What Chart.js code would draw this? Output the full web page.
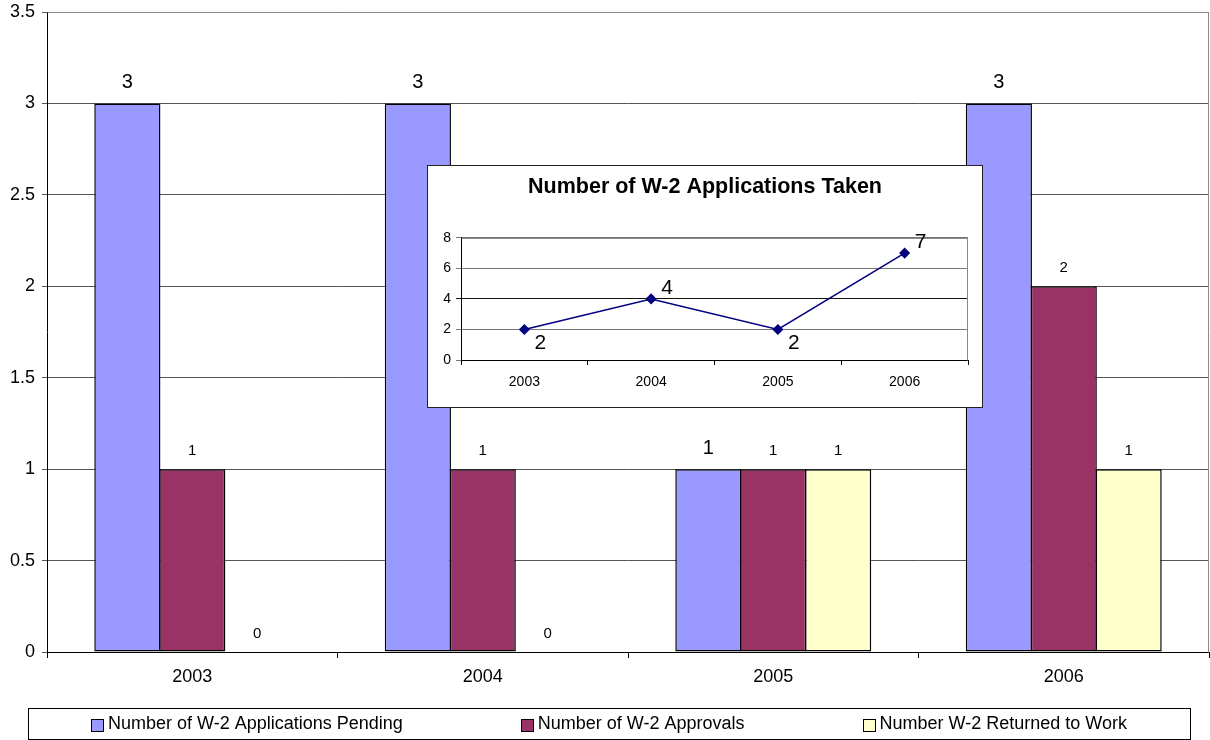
<!DOCTYPE html>
<html>
<head>
<meta charset="utf-8">
<title>W-2 Applications</title>
<script src="https://cdn.jsdelivr.net/npm/chart.js@4.4.1/dist/chart.umd.min.js"></script>
<style>
  html, body { margin: 0; padding: 0; background: #fff; }
  #wrap { position: relative; width: 1210px; height: 740px; overflow: hidden; }
  #main { position: absolute; left: 0; top: 0; }
  #inset {
    position: absolute; left: 427px; top: 165px; width: 556px; height: 243px;
    box-sizing: border-box; border: 1px solid #222; background: #fff;
  }
  #insetCanvas { display: block; }
</style>
</head>
<body>
<div id="wrap">
  <canvas id="main" width="1210" height="740"></canvas>
  <div id="inset"><canvas id="insetCanvas" width="554" height="241"></canvas></div>
</div>
<script>
// ---- data ----
const years = ['2003', '2004', '2005', '2006'];
const pending = [3, 3, 1, 3];
const approvals = [1, 1, 1, 2];
const returnedToWork = [0, 0, 1, 1];
const seriesNames = [
  'Number of W-2 Applications Pending',
  'Number of W-2 Approvals',
  'Number W-2 Returned to Work'
];
const applicationsTaken = [2, 4, 2, 7];
const insetTitle = 'Number of W-2 Applications Taken';

const FONT = '"Liberation Sans", Arial, sans-serif';
Chart.defaults.font.family = FONT;
Chart.defaults.color = '#000';

// grey frame on the top and right of a plot area
const plotFrame = {
  id: 'plotFrame',
  beforeDatasetsDraw(chart, args, opts) {
    const a = chart.chartArea, ctx = chart.ctx;
    ctx.save();
    ctx.strokeStyle = opts.color || '#888';
    ctx.lineWidth = 1;
    ctx.beginPath();
    ctx.moveTo(Math.round(a.left) + 0.5, Math.round(a.top) + 0.5);
    ctx.lineTo(Math.round(a.right) - 0.5, Math.round(a.top) + 0.5);
    ctx.lineTo(Math.round(a.right) - 0.5, Math.round(a.bottom) + 0.5);
    ctx.stroke();
    ctx.restore();
  }
};

// value labels above each bar
const barValueLabels = {
  id: 'barValueLabels',
  afterDatasetsDraw(chart, args, opts) {
    const ctx = chart.ctx;
    ctx.save();
    ctx.fillStyle = '#000';
    ctx.textAlign = 'center';
    ctx.textBaseline = 'middle';
    chart.data.datasets.forEach((ds, i) => {
      const meta = chart.getDatasetMeta(i);
      const size = opts.sizes[i];
      const lift = opts.lifts[i];
      ctx.font = size + 'px ' + FONT;
      meta.data.forEach((bar, j) => {
        ctx.fillText(String(ds.data[j]), bar.x, bar.y - lift);
      });
    });
    ctx.restore();
  }
};

// boxed legend along the bottom
const boxedLegend = {
  id: 'boxedLegend',
  afterDraw(chart, args, opts) {
    const ctx = chart.ctx;
    const b = opts.box;
    ctx.save();
    ctx.strokeStyle = '#000';
    ctx.lineWidth = 1;
    ctx.strokeRect(b.x + 0.5, b.y + 0.5, b.w, b.h);
    ctx.font = opts.fontSize + 'px ' + FONT;
    const sw = opts.swatch, gapT = opts.textGap;
    const widths = chart.data.datasets.map(ds => sw + gapT + ctx.measureText(ds.label).width);
    const total = widths.reduce((s, w) => s + w, 0) + opts.itemGap * (widths.length - 1);
    let x = b.x + b.w / 2 - total / 2;
    const cy = b.y + b.h / 2 + 1;
    chart.data.datasets.forEach((ds, i) => {
      ctx.fillStyle = ds.backgroundColor;
      ctx.fillRect(Math.round(x) + 0.5, Math.round(cy - sw / 2) + 0.5, sw, sw);
      ctx.strokeStyle = '#000';
      ctx.strokeRect(Math.round(x) + 0.5, Math.round(cy - sw / 2) + 0.5, sw, sw);
      ctx.fillStyle = '#000';
      ctx.textBaseline = 'middle';
      ctx.textAlign = 'left';
      ctx.fillText(ds.label, x + sw + gapT, cy);
      x += widths[i] + opts.itemGap;
    });
    ctx.restore();
  }
};

const plainNumber = v => String(v);

new Chart(document.getElementById('main'), {
  type: 'bar',
  data: {
    labels: years,
    datasets: [
      { label: seriesNames[0], data: pending, backgroundColor: '#9999FF' },
      { label: seriesNames[1], data: approvals, backgroundColor: '#993366' },
      { label: seriesNames[2], data: returnedToWork, backgroundColor: '#FFFFCC' }
    ].map(d => Object.assign(d, {
      borderColor: '#000', borderWidth: 1.5, borderSkipped: false,
      categoryPercentage: 0.67, barPercentage: 1.02
    }))
  },
  options: {
    responsive: false,
    animation: false,
    layout: { padding: { top: 12, right: 1, bottom: 40, left: 0 } },
    plugins: {
      legend: { display: false },
      tooltip: { enabled: false },
      plotFrame: { color: '#888' },
      barValueLabels: { sizes: [20, 15, 15], lifts: [21, 18, 18] },
      boxedLegend: {
        box: { x: 28, y: 708, w: 1162, h: 31 },
        fontSize: 18, swatch: 12, textGap: 5, itemGap: 118
      }
    },
    scales: {
      x: {
        grid: { offset: true, drawOnChartArea: false, color: '#000', tickLength: 6 },
        border: { color: '#000' },
        ticks: { font: { size: 18 }, color: '#000', padding: 8 },
        afterFit(s) { s.height = 48; }
      },
      y: {
        min: 0, max: 3.5,
        grid: { color: '#555', tickLength: 5 },
        border: { color: '#000' },
        ticks: { stepSize: 0.5, font: { size: 18 }, color: '#000', padding: 7, callback: plainNumber },
        afterFit(s) { s.width = 47; s.paddingTop = 0; s.paddingBottom = 0; }
      }
    }
  },
  plugins: [plotFrame, barValueLabels, boxedLegend]
});

// labels beside the points of the inset line
const pointValueLabels = {
  id: 'pointValueLabels',
  afterDatasetsDraw(chart, args, opts) {
    const ctx = chart.ctx;
    const meta = chart.getDatasetMeta(0);
    const data = chart.data.datasets[0].data;
    ctx.save();
    ctx.fillStyle = '#000';
    ctx.font = opts.size + 'px ' + FONT;
    ctx.textAlign = 'center';
    ctx.textBaseline = 'middle';
    meta.data.forEach((pt, j) => {
      const below = opts.sides[j] === 'below';
      ctx.fillText(String(data[j]), pt.x + opts.dx, pt.y + (below ? opts.dyBelow : -opts.dyAbove));
    });
    ctx.restore();
  }
};

new Chart(document.getElementById('insetCanvas'), {
  type: 'line',
  data: {
    labels: years,
    datasets: [{
      label: insetTitle,
      data: applicationsTaken,
      borderColor: '#000080',
      backgroundColor: '#000080',
      borderWidth: 1.5,
      pointStyle: 'rectRot',
      pointRadius: 4.5,
      tension: 0
    }]
  },
  options: {
    responsive: false,
    animation: false,
    layout: { padding: { top: 0, right: 14, bottom: 0, left: 14 } },
    plugins: {
      legend: { display: false },
      tooltip: { enabled: false },
      title: {
        display: true, text: insetTitle, color: '#000',
        font: { size: 21.5, weight: 'bold' },
        padding: { top: 8, bottom: 38 }
      },
      plotFrame: { color: '#888' },
      pointValueLabels: {
        size: 21, dx: 16, dyBelow: 14, dyAbove: 11,
        sides: ['below', 'above', 'below', 'above']
      }
    },
    scales: {
      x: {
        offset: true,
        grid: { offset: true, drawOnChartArea: false, color: '#000', tickLength: 5 },
        border: { color: '#000' },
        ticks: { font: { size: 14 }, color: '#000', padding: 9 },
        afterFit(s) { s.height = 47; }
      },
      y: {
        min: 0, max: 8,
        grid: { color: c => (c.tick && c.tick.value === 4 ? '#111' : '#777'), tickLength: 5 },
        border: { color: '#000' },
        ticks: { stepSize: 2, font: { size: 14 }, color: '#000', padding: 5 },
        afterFit(s) { s.width = 19; }
      }
    }
  },
  plugins: [plotFrame, pointValueLabels]
});
</script>
</body>
</html>
